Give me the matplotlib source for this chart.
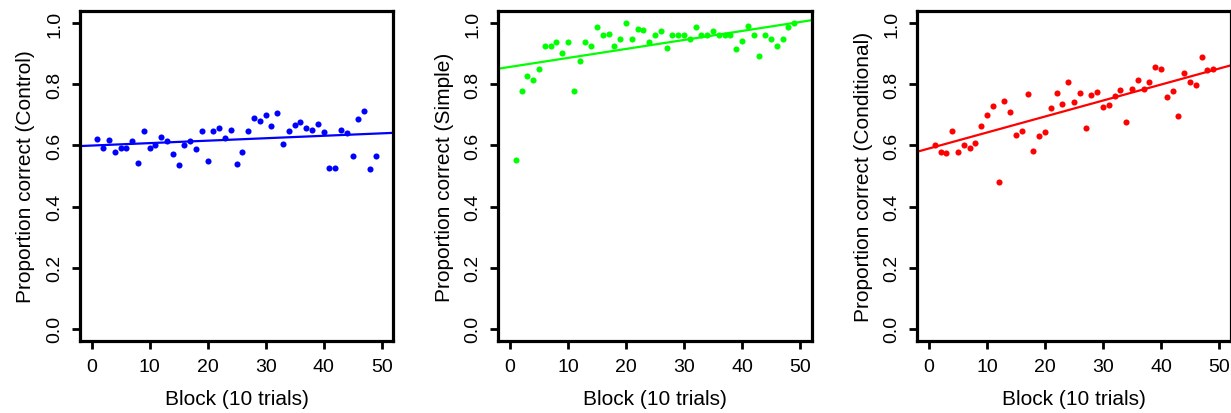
import matplotlib
matplotlib.use("Agg")

import matplotlib.pyplot as plt

plt.rcParams["font.family"] = ["Liberation Sans", "DejaVu Sans"]

# ------------------------------------------------------------------ data --
BLOCKS = list(range(1, 50))

CONTROL = [0.622, 0.591, 0.617, 0.580, 0.591, 0.591, 0.615, 0.542, 0.647, 0.591,
           0.602, 0.628, 0.615, 0.571, 0.537, 0.602, 0.615, 0.590, 0.647, 0.550,
           0.647, 0.657, 0.625, 0.651, 0.538, 0.579, 0.646, 0.690, 0.681, 0.699,
           0.663, 0.707, 0.604, 0.646, 0.668, 0.676, 0.656, 0.650, 0.671, 0.644,
           0.527, 0.527, 0.651, 0.640, 0.566, 0.688, 0.714, 0.522, 0.566]

SIMPLE = [0.551, 0.777, 0.826, 0.814, 0.851, 0.926, 0.926, 0.939, 0.901, 0.939,
          0.777, 0.877, 0.939, 0.926, 0.988, 0.962, 0.964, 0.925, 0.949, 1.000,
          0.950, 0.981, 0.978, 0.939, 0.963, 0.976, 0.920, 0.963, 0.963, 0.963,
          0.947, 0.988, 0.963, 0.963, 0.976, 0.963, 0.963, 0.963, 0.915, 0.941,
          0.991, 0.963, 0.893, 0.963, 0.950, 0.926, 0.950, 0.988, 1.000]

CONDITIONAL = [0.600, 0.580, 0.574, 0.646, 0.580, 0.602, 0.591, 0.608, 0.664, 0.701,
               0.728, 0.480, 0.744, 0.710, 0.635, 0.646, 0.767, 0.582, 0.630, 0.643,
               0.724, 0.772, 0.737, 0.809, 0.743, 0.771, 0.657, 0.765, 0.775, 0.725,
               0.732, 0.763, 0.781, 0.676, 0.786, 0.813, 0.786, 0.809, 0.856, 0.851,
               0.758, 0.777, 0.696, 0.837, 0.809, 0.799, 0.889, 0.848, 0.851]

# least-squares fits (intercept, slope)
FIT_CONTROL = (0.5996, 0.0008)
FIT_SIMPLE = (0.857, 0.00294)
FIT_CONDITIONAL = (0.590, 0.00523)

PANELS = [
    ("Control", CONTROL, FIT_CONTROL, "#0000ff"),
    ("Simple", SIMPLE, FIT_SIMPLE, "#00ff00"),
    ("Conditional", CONDITIONAL, FIT_CONDITIONAL, "#ff0000"),
]

X_TICKS = [0, 10, 20, 30, 40, 50]
Y_TICKS = [0.0, 0.2, 0.4, 0.6, 0.8, 1.0]

# ----------------------------------------------------------------- figure --
W, H = 1231, 414
fig = plt.figure(figsize=(W / 100, H / 100), dpi=100)
fig.patch.set_facecolor("white")

lefts = [80, 498.3, 917.3]   # pixel x of each plot box
box_w, box_top, box_bot = 313.3, 12, 342

for left, (name, vals, (b0, b1), col) in zip(lefts, PANELS):
    ax = fig.add_axes([left / W, (H - box_bot) / H, box_w / W,
                       (box_bot - box_top) / H])
    ax.plot(BLOCKS, vals, "o", color=col, ms=4.4, mew=0, zorder=3)
    ax.axline((0, b0), slope=b1, color=col, lw=1.6, zorder=2)

    ax.set_xlim(-2, 52)
    ax.set_ylim(-0.04, 1.04)
    ax.set_xticks(X_TICKS)
    ax.set_yticks(Y_TICKS)
    ax.set_yticklabels([f"{v:.1f}" for v in Y_TICKS])
    ax.tick_params(length=6, width=2.0, labelsize=14, direction="out")
    ax.tick_params(axis="x", pad=6)
    ax.tick_params(axis="y", pad=6, labelrotation=90)
    plt.setp(ax.get_yticklabels(), va="center")
    for s in ax.spines.values():
        s.set_linewidth(2.3)

    ax.set_xlabel("Block (10 trials)", fontsize=15, labelpad=10)
    ax.set_ylabel(f"Proportion correct ({name})", fontsize=15, labelpad=8)

fig.savefig("out.png", dpi=100, facecolor="white")
